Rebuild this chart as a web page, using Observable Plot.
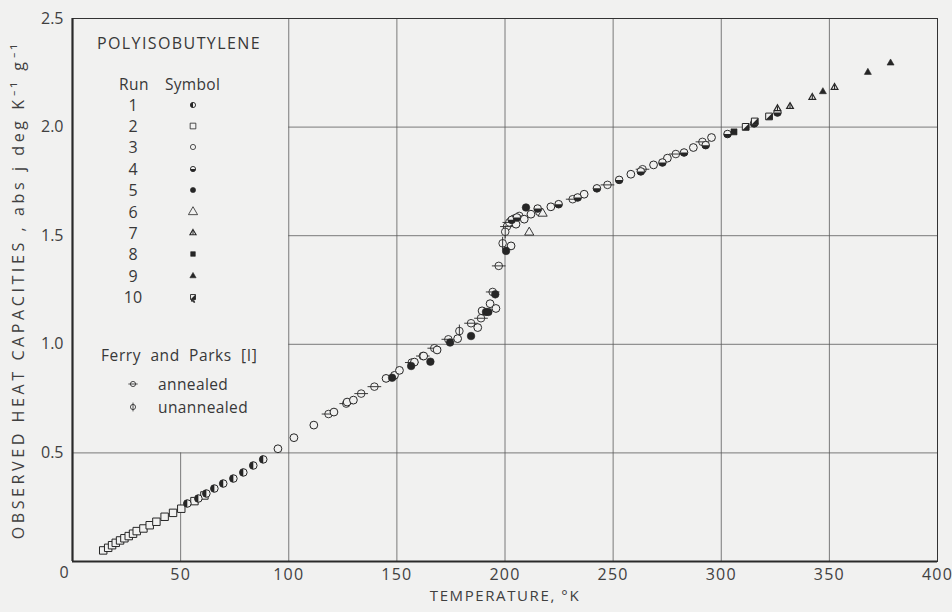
<!DOCTYPE html>
<html><head><meta charset="utf-8">
<script src="https://cdn.jsdelivr.net/npm/d3@7"></script>
<script src="https://cdn.jsdelivr.net/npm/@observablehq/plot@0.6"></script>
<style>
body{margin:0;background:#f1f1f0;}
#wrap{position:relative;width:952px;height:612px;font-family:"Open Sans",sans-serif;color:#383838;}
#legend{position:absolute;left:0;top:0;width:0;height:0;}
.lt{position:absolute;white-space:nowrap;font-size:15px;line-height:14px;height:14px;}
.ls{position:absolute;width:16px;height:16px;overflow:visible;}
</style></head><body><div id="wrap"><div id="chart"></div><div id="legend"></div></div>
<script>
// ---- data: [temperature K, heat capacity j/(deg K g)] ----
const run1 = [[53.1,.267],[58.2,.290],[61.9,.313],[65.6,.336],[69.7,.359],[74.4,.382],[79.0,.410],[83.6,.442],[88.2,.470]];
const run2 = [[14.2,.051],[16.5,.063],[18.3,.075],[20.0,.086],[22.0,.097],[24.0,.107],[26.0,.117],[28.0,.128],[29.7,.140],[32.8,.152],[35.7,.167],[38.8,.183],[42.6,.206],[46.5,.224],[50.3,.243],[56.4,.278],[61.0,.304]];
const run3 = [[95.0,.519],[102.4,.570],[111.6,.628],[120.9,.688],[127.0,.734],[129.9,.743],[145.0,.843],[148.9,.857],[151.2,.880],[158.1,.918],[162.4,.946],[168.6,.974],[178.1,1.026],[187.4,1.077],[189.4,1.154],[193.1,1.187],[195.8,1.165],[202.8,1.453],[205.1,1.553],[208.9,1.576],[212.0,1.599],[215.9,1.610],[221.2,1.633],[236.6,1.691],[258.2,1.783],[268.7,1.826],[275.1,1.857],[287.1,1.906],[295.5,1.952]];
const run4 = [[203.1,1.573],[205.5,1.584],[215.1,1.625],[224.8,1.645],[233.6,1.676],[242.5,1.718],[252.8,1.757],[262.8,1.796],[272.8,1.837],[282.8,1.883],[292.8,1.917],[302.9,1.968],[315.2,2.017],[326.0,2.067]];
const run5 = [[147.8,.846],[156.6,.900],[165.5,.920],[174.6,1.008],[184.3,1.038],[191.2,1.149],[192.3,1.149],[195.5,1.230],[200.5,1.430],[209.7,1.630]];
const run6 = [[211.2,1.515],[217.4,1.602]];
const run7 = [[326.0,2.085],[331.8,2.095],[342.1,2.137],[352.4,2.183]];
const run8 = [[305.9,1.978]];
const run9 = [[347.0,2.163],[367.8,2.252],[378.3,2.295]];
const run10 = [[311.3,2.001],[315.5,2.026],[322.1,2.049]];
const ferryAnnealed = [[118.4,.679],[126.6,.727],[133.5,.773],[139.6,.805],[156.9,.916],[162.0,.946],[167.3,.982],[173.8,1.023],[184.3,1.097],[188.9,1.120],[194.3,1.241],[197.1,1.361],[200.9,1.542],[202.0,1.561],[204.3,1.579],[206.6,1.591],[231.3,1.668],[247.4,1.734],[263.6,1.806],[279.0,1.876],[291.3,1.932]];
const ferryUnannealed = [[178.9,1.061],[198.9,1.465],[200.1,1.518]];

const xTicks = [50,100,150,200,250,300,350,400];
const yTicks = [0.5,1.0,1.5,2.0,2.5];
const xTickLabels = ["50","100","150","200","250","300","350","400"];
const yTickLabels = ["0.5","1.0","1.5","2.0","2.5"];
const runLabels = ["1","2","3","4","5","6","7","8","9","10"];
const xTitle = "TEMPERATURE, °K";
const yTitle = "OBSERVED HEAT CAPACITIES , abs j deg K⁻¹ g⁻¹";
// legend box extent in data units (grid hidden behind it)
const legendBoxT = 100, legendBoxCp = 0.5;

const INK = "#262626", BG = "#f1f1f0", GRID = "#5a5a5a", TXT = "#404040";

// ---- custom symbols ----
const rad = s => Math.sqrt(s / Math.PI);
const halfLeft = {draw(c, s){const r=rad(s); c.moveTo(0,-r); c.arc(0,0,r,-Math.PI/2,Math.PI/2,true); c.closePath();}};
const halfBottom = {draw(c, s){const r=rad(s); c.moveTo(r,0); c.arc(0,0,r,0,Math.PI,false); c.closePath();}};
const circH = {draw(c, s){const r=rad(s); c.moveTo(r,0); c.arc(0,0,r,0,2*Math.PI); c.moveTo(-1.8*r,0); c.lineTo(1.8*r,0);}};
const circV = {draw(c, s){const r=rad(s); c.moveTo(r,0); c.arc(0,0,r,0,2*Math.PI); c.moveTo(0,-1.7*r); c.lineTo(0,1.7*r);}};
const sqHalf = {draw(c, s){const h=Math.sqrt(s)/2; c.moveTo(h,-h); c.lineTo(h,h); c.lineTo(-h,h); c.closePath();}};
const triLine = {draw(c, s){const r=Math.sqrt(s/(3*Math.sqrt(3)/4)); c.moveTo(0,-r*0.6); c.lineTo(0,r*0.45);}};
const tail = {draw(c, s){const h=Math.sqrt(s)/2; c.moveTo(-h*0.8,h*1.5); c.lineTo(h*0.3,h*1.6); c.lineTo(h*0.6,h*2.3);}};

const X = d => d[0], Y = d => d[1];
const dot = (data, o) => Plot.dot(data, {x: X, y: Y, ...o});

const chart = Plot.plot({
  width: 952, height: 612,
  marginLeft: 72, marginRight: 15, marginTop: 18, marginBottom: 51,
  x: {domain: [0, 400]},
  y: {domain: [0, 2.5]},
  style: {background: "transparent", fontFamily: "'Open Sans', sans-serif", fontSize: "15px", color: TXT},
  marks: [
    // partial grid (interrupted by the legend box)
    Plot.ruleX(xTicks.filter(t => t >= legendBoxT && t < 400), {y1: 0, y2: 2.5, stroke: GRID, strokeWidth: 0.8}),
    Plot.ruleX(xTicks.filter(t => t < legendBoxT), {y1: 0, y2: legendBoxCp, stroke: GRID, strokeWidth: 0.8}),
    Plot.ruleY(yTicks.filter(t => t <= legendBoxCp), {x1: 0, x2: 400, stroke: GRID, strokeWidth: 0.8}),
    Plot.ruleY(yTicks.filter(t => t > legendBoxCp && t < 2.5), {x1: legendBoxT, x2: 400, stroke: GRID, strokeWidth: 0.8}),
    Plot.frame({stroke: "#333", strokeWidth: 1}),
    Plot.ruleX([0], {stroke: "#2a2a2a", strokeWidth: 2.2}),
    Plot.ruleY([0], {stroke: "#2a2a2a", strokeWidth: 2.2}),
    Plot.axisX(xTicks, {tickSize: 0, tickPadding: 7, tickFormat: (d, i) => xTickLabels[i], label: null, fill: TXT, fontSize: 16}),
    Plot.axisY(yTicks, {tickSize: 0, tickPadding: 9, tickFormat: (d, i) => yTickLabels[i], label: null, fill: TXT, fontSize: 16}),
    Plot.text(["0"], {frameAnchor: "bottom-left", dx: -13, dy: 16, fill: TXT, fontSize: 16}),
    Plot.text([xTitle], {frameAnchor: "bottom", dy: 39, fill: TXT, fontSize: 15}),
    Plot.text([yTitle], {frameAnchor: "left", textAnchor: "middle", dx: -54, rotate: -90, fill: TXT, fontSize: 16}),
    // run 2 squares
    dot(run2, {symbol: "square", r: 4.2, stroke: INK, fill: BG, strokeWidth: 1}),
    // run 1 half-left filled circles
    dot(run1, {r: 3.8, stroke: INK, fill: BG, strokeWidth: 1}),
    dot(run1, {r: 3.8, symbol: halfLeft, fill: INK}),
    // Ferry and Parks
    dot(ferryAnnealed, {r: 3.8, symbol: circH, stroke: INK, fill: BG, strokeWidth: 0.9}),
    dot(ferryUnannealed, {r: 3.8, symbol: circV, stroke: INK, fill: BG, strokeWidth: 0.9}),
    // run 3 open circles
    dot(run3, {r: 3.9, stroke: INK, fill: BG, strokeWidth: 1}),
    // run 4 half-bottom circles
    dot(run4, {r: 3.8, stroke: INK, fill: BG, strokeWidth: 1}),
    dot(run4, {r: 3.8, symbol: halfBottom, fill: INK}),
    // run 5 filled circles
    dot(run5, {r: 3.8, fill: INK, stroke: INK, strokeWidth: 0.6}),
    // run 6 open triangles
    dot(run6, {symbol: "triangle", r: 3.4, stroke: INK, fill: BG, strokeWidth: 0.9}),
    // run 7 heavy triangles
    dot(run7, {symbol: "triangle", r: 2.5, stroke: INK, fill: BG, strokeWidth: 1.2}),
    dot(run7, {symbol: triLine, r: 2.5, stroke: INK, strokeWidth: 1.1}),
    // run 8 filled square
    dot(run8, {symbol: "square", r: 3.4, fill: INK, stroke: INK, strokeWidth: 0.6}),
    // run 9 filled triangles
    dot(run9, {symbol: "triangle", r: 2.6, fill: INK, stroke: INK, strokeWidth: 0.6}),
    // run 10 half squares
    dot(run10, {symbol: "square", r: 3.8, stroke: INK, fill: BG, strokeWidth: 1}),
    dot(run10, {symbol: sqHalf, r: 3.8, fill: INK})
  ]
});
document.getElementById("chart").appendChild(chart);

// letter spacing for the lettering-style texts
const spacing = new Map([[xTitle, "1.6px"], [yTitle, "3.6px"]]);
d3.select(chart).selectAll("text").each(function() {
  const t = this.textContent;
  if (spacing.has(t)) this.style.letterSpacing = spacing.get(t);
  else if (xTickLabels.includes(t)) this.style.letterSpacing = "1.2px";
});

// ---- legend (HTML overlay) ----
const L = document.getElementById("legend");
function txt(s, left, cy, extra) {
  const d = document.createElement("div");
  d.className = "lt"; d.textContent = s;
  d.style.left = left + "px"; d.style.top = (cy - 7) + "px";
  if (extra) Object.assign(d.style, extra);
  L.appendChild(d); return d;
}
function sym(cx, cy, layers) {
  const s = d3.create("svg").attr("class", "ls").attr("width", 16).attr("height", 16)
    .style("left", (cx - 8) + "px").style("top", (cy - 8) + "px");
  const g = s.append("g").attr("transform", "translate(8,8)");
  for (const [type, r, fill, stroke, sw] of layers) {
    g.append("path").attr("d", d3.symbol(type, r * r * Math.PI)())
      .attr("fill", fill).attr("stroke", stroke).attr("stroke-width", sw || 0);
  }
  L.appendChild(s.node());
}
txt("POLYISOBUTYLENE", 97, 43, {fontSize: "16px", letterSpacing: "1.4px"});
txt("Run", 119, 84, {fontSize: "15.5px", letterSpacing: "0.5px"});
txt("Symbol", 165, 84, {fontSize: "15.5px", letterSpacing: "0.3px"});
const r0 = 2.6;
const legendSymbols = [
  [[d3.symbolCircle, r0, BG, INK, 0.9], [halfLeft, r0, INK, "none"]],
  [[d3.symbolSquare, 3.2, BG, INK, 0.8]],
  [[d3.symbolCircle, r0, BG, INK, 0.8]],
  [[d3.symbolCircle, r0, BG, INK, 0.9], [halfBottom, r0, INK, "none"]],
  [[d3.symbolCircle, r0, INK, INK, 0.6]],
  [[d3.symbolTriangle, 3.4, BG, INK, 0.8]],
  [[d3.symbolTriangle, 2.3, BG, INK, 1.1], [triLine, 2.3, "none", INK, 1]],
  [[d3.symbolSquare, 2.6, INK, INK, 0.6]],
  [[d3.symbolTriangle, 2.3, INK, INK, 0.6]],
  [[d3.symbolSquare, 2.8, BG, INK, 0.9], [sqHalf, 2.8, INK, "none"], [tail, 2.8, "none", INK, 1.6]]
];
runLabels.forEach((lab, i) => {
  const cy = 104.5 + i * 21.4;
  txt(lab, 133, cy, {transform: "translateX(-50%)", fontSize: "16px"});
  sym(193, cy, legendSymbols[i]);
});
txt("Ferry  and  Parks  [I]", 101, 355, {whiteSpace: "pre", fontSize: "15.5px", letterSpacing: "0.6px"});
sym(133, 384, [[circH, 2.6, BG, INK, 0.8]]);
txt("annealed", 158, 384, {fontSize: "15.5px", letterSpacing: "0.4px"});
sym(133, 407, [[circV, 2.6, BG, INK, 0.8]]);
txt("unannealed", 158, 407, {fontSize: "15.5px", letterSpacing: "0.4px"});
</script></body></html>
